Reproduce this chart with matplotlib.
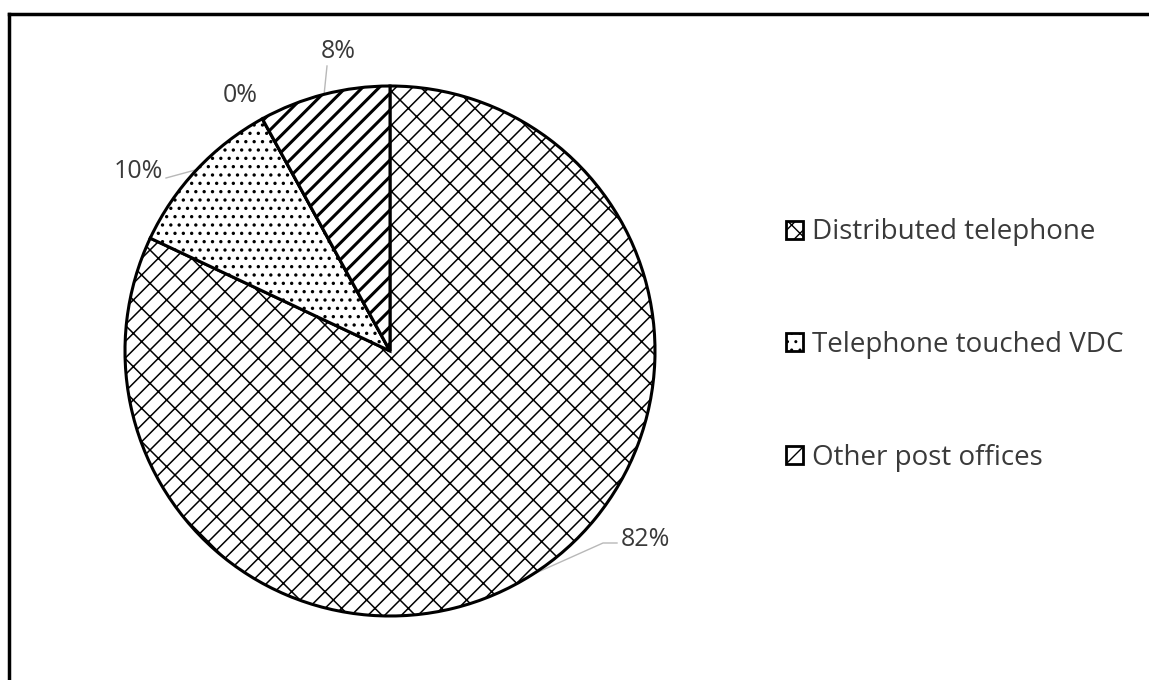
import matplotlib
matplotlib.use("Agg")
import matplotlib.pyplot as plt
from matplotlib.lines import Line2D
from matplotlib.patches import Patch
import numpy as np

# Share of respondents by information source
categories = ["Distributed telephone", "Telephone touched VDC", "", "Other post offices"]
shares = [82, 10, 0, 8]
legend_names = ["Distributed telephone", "Telephone touched VDC", "Other post offices"]

hatches = ["x/", "..", "", "//"]
hatch_widths = [1.1, 1.2, 1.0, 2.2]

plt.rcParams["font.family"] = ["Open Sans", "DejaVu Sans"]
TEXT = "#3a3a3a"

W, H = 1149, 680
fig = plt.figure(figsize=(W / 100, H / 100), dpi=100)
fig.patch.set_facecolor("white")

cx, cy, r = 390, 351, 265
ax = fig.add_axes([(cx - r) / W, (H - cy - r) / H, 2 * r / W, 2 * r / H])

wedges, _ = ax.pie(
    shares, startangle=90, counterclock=False, radius=1,
    colors=["white"] * len(shares),
    wedgeprops=dict(edgecolor="black", linewidth=2.2),
)
for w, h, hw in zip(wedges, hatches, hatch_widths):
    w.set_hatch(h)
    if hasattr(w, "set_hatch_linewidth"):
        w.set_hatch_linewidth(hw)
ax.set_xlim(-1, 1)
ax.set_ylim(-1, 1)
ax.set_aspect("equal")
ax.axis("off")

def px(x, y):
    return ((x - cx) / r, (cy - y) / r)

# label text position and optional leader elbow (pixel space)
label_pos = [(645, 540), (138, 172), (240, 96), (338, 52)]
leader_end = [[(617, 543), (603, 543)], [(166, 178)], None, [(327, 66)]]

total = float(sum(shares))
cum = 0.0
for val, pos, lead in zip(shares, label_pos, leader_end):
    mid = (cum + val / 2) / total
    cum += val
    theta = np.deg2rad(90 - 360 * mid)
    ax_pt = (np.cos(theta), np.sin(theta))
    tx, ty = px(*pos)
    ax.text(tx, ty, f"{val:.0f}%", ha="center", va="center",
            fontsize=18, color=TEXT)
    if lead:
        pts = [px(*p) for p in lead] + [ax_pt]
        xs = [p[0] for p in pts]
        ys = [p[1] for p in pts]
        ax.plot(xs, ys, color="#b8b8b8", lw=1.0, clip_on=False, zorder=0)

handles = []
for name in legend_names:
    i = categories.index(name)
    handles.append(Patch(facecolor="white", edgecolor="black", linewidth=2.0,
                         hatch=hatches[i]))
leg = fig.legend(
    handles, legend_names, loc="center left",
    bbox_to_anchor=(772 / W, 1 - 345 / H), frameon=False,
    fontsize=20, handlelength=0.62, handleheight=0.62,
    handletextpad=0.32, labelspacing=3.05, borderpad=0,
)
for t in leg.get_texts():
    t.set_color(TEXT)

# outer frame (top and left edges)
fig.add_artist(Line2D([9 / W, 1.0], [1 - 14 / H, 1 - 14 / H], color="black",
                      lw=2.5, transform=fig.transFigure))
fig.add_artist(Line2D([9 / W, 9 / W], [1 - 14 / H, 0], color="black",
                      lw=2.5, transform=fig.transFigure))

fig.savefig("out.png", dpi=100, facecolor="white")
